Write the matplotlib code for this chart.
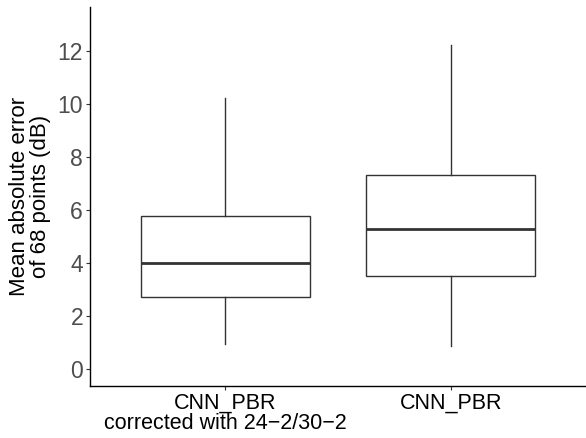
import matplotlib.pyplot as plt

plt.rcParams['font.family'] = ['Liberation Sans', 'DejaVu Sans']

# valores (dB)
categorias = ['CNN_PBR\ncorrected with 24\u22122/30\u22122', 'CNN_PBR']
minimo = [0.92, 0.85]
q1 = [2.71, 3.49]
mediana = [3.99, 5.29]
q3 = [5.76, 7.30]
maximo = [10.21, 12.23]
y_ticks = [0, 2, 4, 6, 8, 10, 12]

stats = []
for i in range(len(categorias)):
    stats.append({'whislo': minimo[i], 'q1': q1[i], 'med': mediana[i],
                  'q3': q3[i], 'whishi': maximo[i], 'fliers': []})

fig = plt.figure(figsize=(5.86, 4.38), dpi=100)
ax = fig.add_axes([90 / 586, 52 / 438, 496 / 586, 379 / 438])

ax.bxp(stats, positions=[1, 2], widths=0.75, showfliers=False, showcaps=False,
       patch_artist=True,
       boxprops=dict(facecolor='white', edgecolor='#333333', linewidth=1.0),
       whiskerprops=dict(color='#333333', linewidth=1.0),
       medianprops=dict(color='#333333', linewidth=2.0))

ax.set_xlim(0.4, 2.6)
ax.set_ylim(-0.65, 13.65)
ax.set_xticks([1, 2])
ax.set_xticklabels(categorias, fontsize=15.5, color='black', linespacing=0.95)
ax.set_yticks(y_ticks)
ax.set_yticklabels([str(v) for v in y_ticks], fontsize=16.5, color='#4D4D4D')
ax.tick_params(axis='both', length=3, width=0.8, color='#333333', pad=2)
ax.set_ylabel('Mean absolute error\nof 68 points (dB)', fontsize=16, linespacing=0.95, labelpad=5)

for s in ['top', 'right']:
    ax.spines[s].set_visible(False)
for s in ['left', 'bottom']:
    ax.spines[s].set_color('black')
    ax.spines[s].set_linewidth(1.0)

fig.savefig('out.png', dpi=100, facecolor='white')
